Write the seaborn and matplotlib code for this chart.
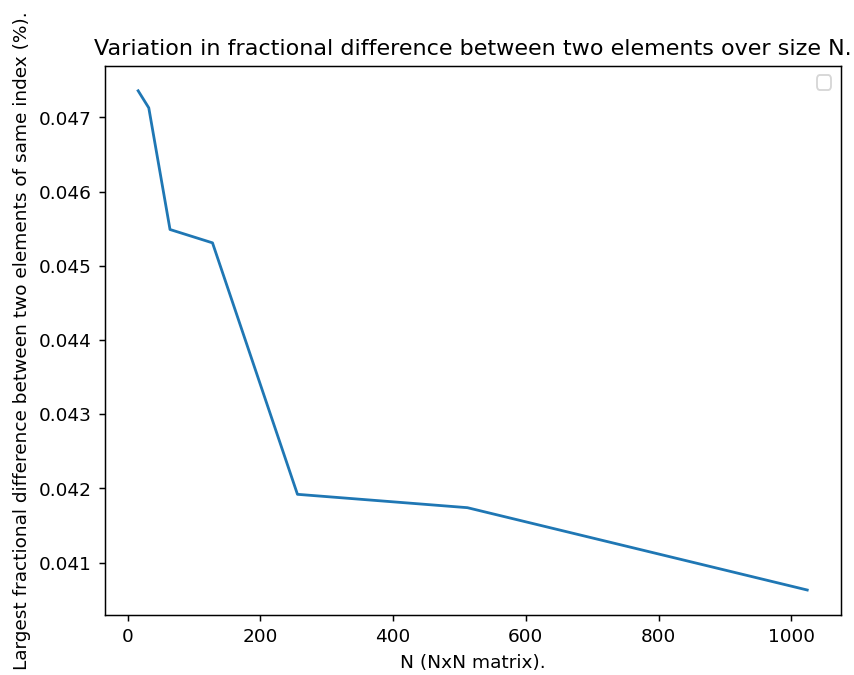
import numpy as np
import pandas as pd
import matplotlib
matplotlib.use('Agg')
import matplotlib.pyplot as plt
import seaborn as sns

sizes = [16, 32, 64, 128, 256, 512, 1024]
max_diff = [0.04736, 0.04713, 0.04549, 0.04531, 0.04192, 0.04174, 0.04063]


def make_plot():
    data = pd.DataFrame({'N': sizes, 'diff': max_diff})

    fig, ax = plt.subplots(figsize=(6.4, 5.06), dpi=133.44)
    sns.lineplot(data=data, x='N', y='diff', ax=ax)
    ax.legend()
    ax.set_title('Variation in fractional difference between two elements over size N.')
    ax.set_xlabel('N (NxN matrix).')
    ax.set_ylabel('Largest fractional difference between two elements of same index (%).')
    plt.subplots_adjust(left=0.1226, right=0.9844, top=0.9022, bottom=0.0889)
    plt.savefig('out.png', dpi=133.44)


make_plot()
